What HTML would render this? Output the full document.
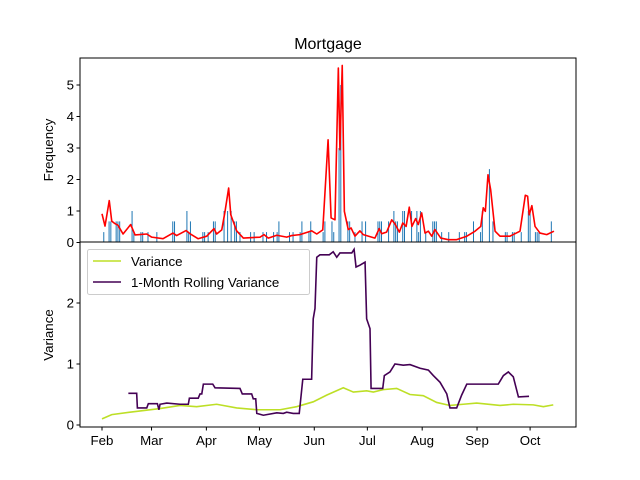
<!DOCTYPE html>
<html><head><meta charset="utf-8"><style>
body{margin:0;background:#fff}
svg{display:block;font-family:"Liberation Sans","DejaVu Sans",sans-serif}
</style></head><body>
<svg id="c" width="640" height="480" viewBox="0 0 640 480"></svg>
<script>
// ---- data (day offsets from Feb 1) ----
const monthLabels=["Feb","Mar","Apr","May","Jun","Jul","Aug","Sep","Oct"];
const monthDays=[0,28,59,89,120,150,181,212,242];
const topTicks=[0,1,2,3,4,5];
const bottomTicks=[0,1,2];
const barDays=[1,4,5,8,9,10,17,18,22,23,26,31,40,41,48,49,50,57,58,60,63,64,69,71,73,75,76,78,84,86,91,93,97,99,100,106,108,112,113,117,118,125,126,130,131,134,135,139,140,143,147,149,156,157,158,162,165,166,167,170,171,175,178,179,180,183,187,188,189,192,196,202,205,206,210,214,215,219,221,228,229,232,233,237,241,242,245,246,247,254];
const barValues=[0.33,0.67,0.67,0.67,0.67,0.67,1,0.33,0.33,0.33,0.33,0.33,0.67,0.67,1,0.33,0.67,0.33,0.33,0.33,0.67,0.67,1,1,1,0.67,0.67,0.33,0.33,0.33,0.33,0.33,0.33,0.33,0.67,0.33,0.33,0.33,0.67,0.33,0.67,0.33,0.67,0.67,0.33,3,5,0.67,0.67,0.33,0.67,0.67,0.67,0.67,0.67,0.67,1,0.67,0.67,1,1,1,1,0.33,1,0.33,0.67,0.67,0.67,0.33,0.33,0.33,0.33,0.33,0.67,0.33,1,2.33,0.67,0.33,0.33,0.33,0.33,0.33,1,1,0.33,0.33,0.33,0.67];
const freqDays=[0,1.7,4.1,5.5,7.3,9,11.9,16.2,18.7,25.3,28.1,34.5,40.1,42.2,47.5,49.7,54.3,59.2,63.3,64.8,67.7,69.5,71.6,72.8,76.1,79.9,89.3,91.6,94,98.8,104.4,107.2,111.9,118.5,121.4,124.8,127.8,129.5,131.7,133.6,134.5,135.8,137,139.2,140.8,143,145.8,147.7,154.3,156.7,158.1,160.9,163.8,165.6,168.1,170,171.9,173.7,175.2,177.3,178.8,180.7,182.6,184.5,186.4,188.2,191.5,195.8,200.5,206.2,210.9,214.1,215.5,216.7,218.2,219.7,222.2,225,230.6,236.3,239.3,240.6,241.5,243,244.8,247.6,251.4,255.5];
const freqValues=[0.91,0.52,1.33,0.68,0.6,0.55,0.27,0.57,0.24,0.27,0.17,0.12,0.3,0.22,0.38,0.28,0.12,0.2,0.44,0.27,0.4,0.97,1.73,0.88,0.37,0.14,0.17,0.25,0.14,0.23,0.17,0.22,0.25,0.37,0.27,0.4,3.26,0.78,0.72,5.54,2.95,5.62,0.99,0.41,0.46,0.2,0.37,0.25,0.14,0.44,0.28,0.33,0.72,0.59,0.33,0.62,0.51,1.12,0.51,0.76,0.57,0.94,0.3,0.36,0.2,0.41,0.14,0.09,0.09,0.2,0.36,0.51,1.1,0.99,2.15,1.68,0.36,0.2,0.2,0.36,1.5,1.47,0.88,1.17,0.51,0.3,0.25,0.36];
const varDays=[0,5.5,15.8,32.8,44.1,53.5,64.8,76.1,87.5,100.7,110,119.4,127,136.4,142.1,149.6,153.4,159,166.6,174.1,181.6,189.2,196.7,204.2,211.8,225,232.5,243.8,249.5,255.1];
const varValues=[0.1,0.17,0.21,0.27,0.32,0.3,0.34,0.28,0.25,0.25,0.3,0.38,0.49,0.61,0.54,0.56,0.54,0.58,0.6,0.5,0.48,0.37,0.32,0.34,0.36,0.32,0.34,0.33,0.3,0.33];
const rollDays=[14.9,19.6,20,25.3,26.2,31.3,32.2,32.8,36.6,44.1,48.8,49.4,54.4,55.4,56.4,57.3,62.6,63.9,78,79.3,84.6,85.5,86.9,87.5,91.2,98.8,102.5,104.4,108.1,111.5,113.5,118.5,119.4,120.4,121.4,123.2,128.5,130.7,132.7,134.5,141.2,142.5,143.6,145.8,148.7,149.6,151.5,152.1,158.7,159.6,162.8,165.6,170.3,174.1,179.8,184.5,187.3,191.1,194.9,196.7,200.5,203.3,206.2,224,226.9,229.7,232.5,235.4,241.4];
const rollValues=[0.52,0.52,0.28,0.28,0.35,0.35,0.25,0.34,0.36,0.34,0.34,0.44,0.44,0.51,0.51,0.67,0.67,0.61,0.6,0.51,0.51,0.43,0.43,0.19,0.16,0.2,0.19,0.21,0.19,0.19,0.75,0.75,1.74,1.91,2.75,2.79,2.79,2.84,2.75,2.82,2.82,2.88,2.59,2.62,2.67,1.74,1.58,0.6,0.6,0.81,0.87,1.0,0.98,0.99,0.93,0.9,0.81,0.7,0.51,0.28,0.28,0.49,0.67,0.67,0.81,0.87,0.79,0.46,0.47];

// ---- axes ----
const L=80,R=576,T1=58,B1=242,B2=427;
const x=d=>102+d*1.769;
const yTop=v=>242.5-v*31.5;
const yBot=v=>425-v*61;
const svg=document.getElementById('c');
const NS='http://www.w3.org/2000/svg';
function mk(tag,attrs,parent){const e=document.createElementNS(NS,tag);for(const k in attrs)e.setAttribute(k,attrs[k]);(parent||svg).appendChild(e);return e;}

// bars
const gb=mk('g',{});


barDays.forEach((d,i)=>{
  const r=mk('rect',{x:x(d)-0.5,y:yTop(barValues[i]),width:1,height:yTop(0)-yTop(barValues[i]),fill:'#1f77b4'},gb);
  
  
});
const fl=mk('polyline',{points:freqDays.map((d,i)=>x(d)+','+yTop(freqValues[i])).join(' '),fill:'none',stroke:'#ff0000','stroke-width':1.6,'stroke-linejoin':'round'});



const vl=mk('polyline',{points:varDays.map((d,i)=>x(d)+','+yBot(varValues[i])).join(' '),fill:'none',stroke:'#bddf26','stroke-width':1.6});


const rl=mk('polyline',{points:rollDays.map((d,i)=>x(d)+','+yBot(rollValues[i])).join(' '),fill:'none',stroke:'#440154','stroke-width':1.6});



// frames
const f1=mk('rect',{x:L,y:T1,width:R-L,height:B1-T1,fill:'none',stroke:'#000','stroke-width':1});


const f2=mk('rect',{x:L,y:B1,width:R-L,height:B2-B1,fill:'none',stroke:'#000','stroke-width':1});



// ticks
topTicks.forEach(t=>{
  mk('line',{x1:L-3.5,x2:L,y1:yTop(t),y2:yTop(t),stroke:'#000'});
  const tx=mk('text',{x:L-6,y:yTop(t)+4.5,'text-anchor':'end','font-size':13.3});
  tx.textContent=t;
  
  
});
bottomTicks.forEach(t=>{
  mk('line',{x1:L-3.5,x2:L,y1:yBot(t),y2:yBot(t),stroke:'#000'});
  const tx=mk('text',{x:L-6,y:yBot(t)+4.5,'text-anchor':'end','font-size':13.3});
  tx.textContent=t;
  
  
});
monthDays.forEach((d,i)=>{
  mk('line',{x1:x(d),x2:x(d),y1:B2,y2:B2+3.5,stroke:'#000'});
  const tx=mk('text',{x:x(d),y:B2+18,'text-anchor':'middle','font-size':13.3});
  tx.textContent=monthLabels[i];
  
  
});
</script>
<svg width="0" height="0"></svg>
<div style="position:absolute;left:0;top:0;width:640px;height:480px;pointer-events:none">
<svg width="640" height="480" style="position:absolute;left:0;top:0">
<text x="328" y="49" text-anchor="middle" font-size="16" font-family="Liberation Sans, sans-serif">Mortgage</text>
<text transform="translate(53,150) rotate(-90)" text-anchor="middle" font-size="13.3" font-family="Liberation Sans, sans-serif">Frequency</text>
<text transform="translate(53,335) rotate(-90)" text-anchor="middle" font-size="13.3" font-family="Liberation Sans, sans-serif">Variance</text>
<g>
<rect x="87.5" y="249.5" width="222" height="45" rx="2" fill="#fff" fill-opacity="0.8" stroke="#ccc"/>
<line x1="93" x2="121" y1="261" y2="261" stroke="#bddf26" stroke-width="1.6"/>
<text x="131" y="266" font-size="13.3" font-family="Liberation Sans, sans-serif">Variance</text>
<line x1="93" x2="121" y1="282" y2="282" stroke="#440154" stroke-width="1.6"/>
<text x="131" y="287" font-size="13.3" font-family="Liberation Sans, sans-serif">1-Month Rolling Variance</text>
</g>
</svg>
</div>
</body></html>
